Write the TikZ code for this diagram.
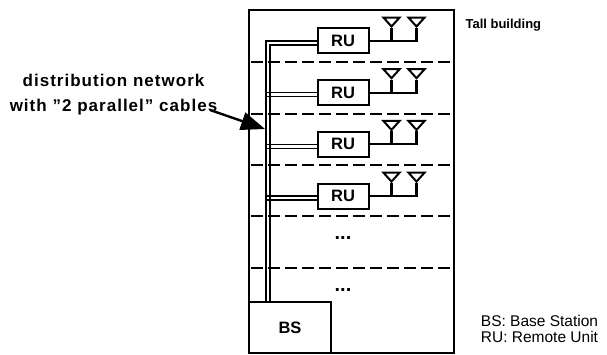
\documentclass[tikz,border=0pt]{standalone}
\usepackage{fontspec}
\setmainfont{Liberation Sans}
\usetikzlibrary{positioning,arrows.meta,shapes.geometric}
\tikzset{
	wall/.style={draw, line width=2pt, inner sep=0pt},
	runit/.style={wall, minimum width=51pt, minimum height=25pt, font=\bfseries\fontsize{16.5}{18}\selectfont},
	antenna/.style={draw, line width=2pt, isosceles triangle, isosceles triangle apex angle=84, shape border rotate=270, minimum height=9pt, inner sep=0pt},
	feed/.style={line width=2.2pt},
	cable/.style={line width=1.2pt},
	floorline/.style={line width=1.5pt, dash pattern=on 12pt off 5pt},
	boldtext/.style={font=\bfseries\fontsize{17}{25}\selectfont\addfontfeature{LetterSpace=6}, align=center},
	dotted dots/.style={font=\bfseries\fontsize{20}{22}\selectfont},
	legend/.style={font=\fontsize{15.5}{16.5}\selectfont, align=left}
}

\begin{document}
\begin{tikzpicture}[x=1pt, y=-1pt, node distance=24.7pt]
	\useasboundingbox (0,0) rectangle (607,355);

	\node[wall, minimum width=205pt, minimum height=343pt] (building) at (351.5,181.5) {};
	\node[wall, minimum width=82pt, minimum height=51pt] (bs) at (290,327.5) {\bfseries\fontsize{16.5}{18}\selectfont BS};

	\node[runit] (ru1) at (343,41) {RU};
	\node[runit, below=of ru1] (ru2) {RU};
	\node[runit, below=of ru2] (ru3) {RU};
	\node[runit, below=of ru3] (ru4) {RU};

	\node[dotted dots] (dots1) at (343,238) {...};
	\node[dotted dots] (dots2) at (343,290) {...};

	% floors
	\coordinate (f1) at (251,62);
	\coordinate (f2) at (251,114);
	\coordinate (f3) at (251,165);
	\coordinate (f4) at (251,216);
	\coordinate (f5) at (251,268);
	\coordinate[right=199pt of f1] (g1);
	\coordinate[right=199pt of f2] (g2);
	\coordinate[right=199pt of f3] (g3);
	\coordinate[right=199pt of f4] (g4);
	\coordinate[right=199pt of f5] (g5);
	\draw[floorline] (f1) -- (g1);
	\draw[floorline] (f2) -- (g2);
	\draw[floorline] (f3) -- (g3);
	\draw[floorline] (f4) -- (g4);
	\draw[floorline] (f5) -- (g5);

	% antennas
	\node[antenna, above right=13pt and 22pt of ru1.east, anchor=apex] (a1) {};
	\node[antenna, above right=13pt and 47pt of ru1.east, anchor=apex] (b1) {};
	\node[antenna, above right=13pt and 22pt of ru2.east, anchor=apex] (a2) {};
	\node[antenna, above right=13pt and 47pt of ru2.east, anchor=apex] (b2) {};
	\node[antenna, above right=13pt and 22pt of ru3.east, anchor=apex] (a3) {};
	\node[antenna, above right=13pt and 47pt of ru3.east, anchor=apex] (b3) {};
	\node[antenna, above right=13pt and 22pt of ru4.east, anchor=apex] (a4) {};
	\node[antenna, above right=13pt and 47pt of ru4.east, anchor=apex] (b4) {};

	\draw[feed] (ru1.east) -| (b1.apex) (a1.apex) -- (a1.apex |- ru1.east);
	\draw[feed] (ru2.east) -| (b2.apex) (a2.apex) -- (a2.apex |- ru2.east);
	\draw[feed] (ru3.east) -| (b3.apex) (a3.apex) -- (a3.apex |- ru3.east);
	\draw[feed] (ru4.east) -| (b4.apex) (a4.apex) -- (a4.apex |- ru4.east);

	% the two cables
	\coordinate (c1) at (266,302);
	\coordinate (c2) at (270,302);
	\draw[cable] (c1) |- (ru1.west);
	\draw[cable] (c2) |- ([yshift=-4pt]ru1.west);
	\draw[cable] (c1 |- ru2.west) -- (ru2.west);
	\draw[cable] (c1 |- ru2.west) ++(0,4) -- ([yshift=-4pt]ru2.west);
	\draw[cable] (c1 |- ru3.west) -- (ru3.west);
	\draw[cable] (c1 |- ru3.west) ++(0,4) -- ([yshift=-4pt]ru3.west);
	\draw[cable] (c1 |- ru4.west) -- (ru4.west);
	\draw[cable] (c1 |- ru4.west) ++(0,4) -- ([yshift=-4pt]ru4.west);

	\node[boldtext] (network) at (113.5,95) {distribution network\\with "2 parallel" cables};
	\coordinate (tail) at (210,110);
	\coordinate (tip) at (265,129);
	\draw[line width=2.4pt, -{Triangle[length=24pt, width=18pt]}] (tail) -- (tip);

	\node[font=\bfseries\fontsize{13}{15}\selectfont, right=7pt of building.north east, yshift=-16pt] (tall) {Tall building};
	\node[legend] (key) at (539.5,329) {BS: Base Station\\RU: Remote Unit};
\end{tikzpicture}
\end{document}
